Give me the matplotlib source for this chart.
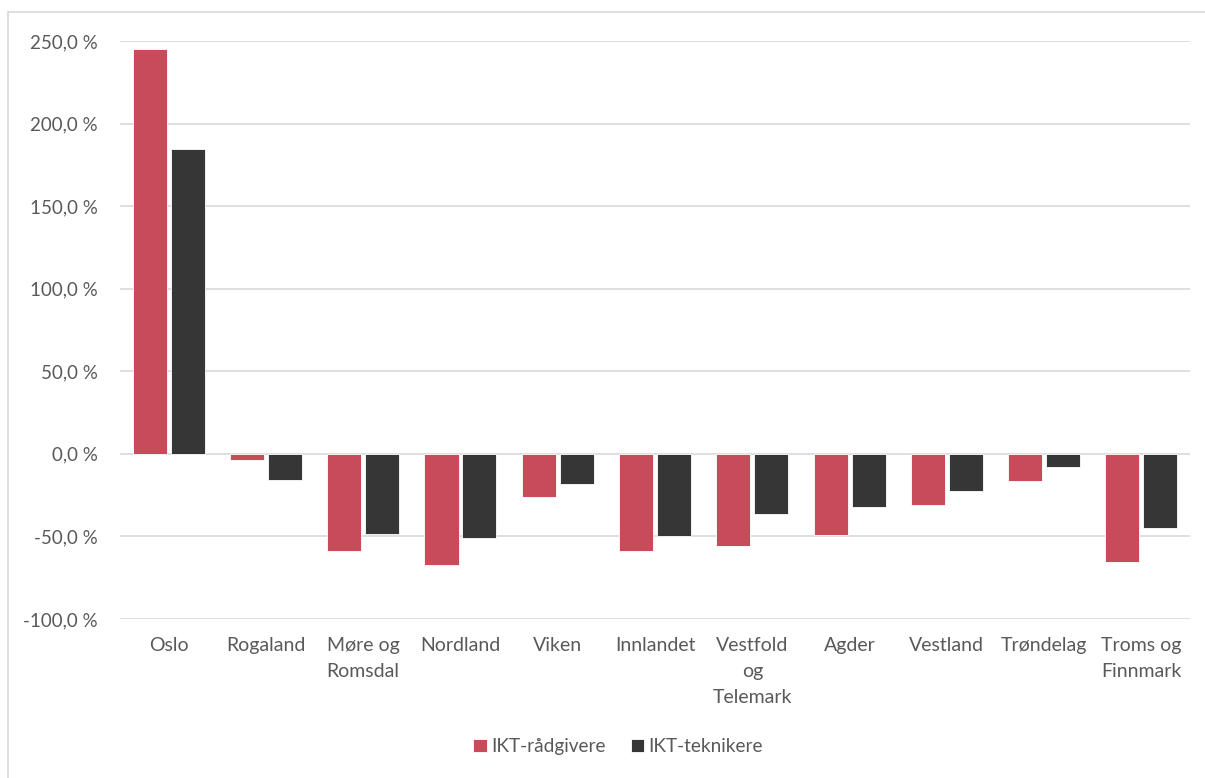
import numpy as np
import matplotlib.pyplot as plt
from matplotlib.patches import Rectangle

plt.rcParams['font.family'] = ['Lato', 'DejaVu Sans']

# Endring i andel per fylke
fylker = ['Oslo', 'Rogaland', 'Møre og\nRomsdal', 'Nordland', 'Viken', 'Innlandet',
          'Vestfold\nog\nTelemark', 'Agder', 'Vestland', 'Trøndelag', 'Troms og\nFinnmark']
radgivere = [245.2, -4.0, -58.7, -67.5, -26.2, -59.1, -56.1, -49.0, -31.1, -16.5, -65.5]
teknikere = [184.9, -16.1, -48.6, -51.2, -18.3, -49.6, -36.5, -32.3, -22.4, -7.9, -45.0]
yticks = [-100, -50, 0, 50, 100, 150, 200, 250]

red = '#C84B5A'
dark = '#363636'
txt = '#595959'

fig = plt.figure(figsize=(12.05, 7.78), dpi=100)
ax = fig.add_axes([0.0996, 0.2044, 0.888, 0.7429])

x = np.arange(len(fylker))
w = 0.35
ax.bar(x - w / 2 - 0.02, radgivere, w, color=red, edgecolor='white', linewidth=0.6,
       label='IKT-rådgivere', zorder=3)
ax.bar(x + w / 2 + 0.02, teknikere, w, color=dark, edgecolor='white', linewidth=0.6,
       label='IKT-teknikere', zorder=3)

ax.set_ylim(-100, 250)
ax.set_xlim(-0.5, len(fylker) - 0.5)
ax.set_yticks(yticks)
ax.set_yticklabels([f'{v:.1f}'.replace('.', ',') + ' %' for v in yticks])
ax.set_xticks(x)
ax.set_xticklabels(fylker, linespacing=1.65)
ax.yaxis.grid(True, color='#d9d9d9', linewidth=1.2, zorder=0)
ax.tick_params(axis='y', length=0, labelsize=13.5, colors=txt, pad=16)
ax.tick_params(axis='x', length=0, labelsize=14, colors=txt, pad=13)
for s in ax.spines.values():
    s.set_visible(False)

leg = fig.legend(loc='center', bbox_to_anchor=(0.513, 0.04), ncol=2, frameon=False,
                 fontsize=13.7, handlelength=0.7, handleheight=0.7, handletextpad=0.25,
                 columnspacing=1.3)
for t in leg.get_texts():
    t.set_color(txt)

# ramme rundt diagrammet
fig.patches.append(Rectangle((0.0066, -0.01), 1.0, 0.995, transform=fig.transFigure,
                             fill=False, edgecolor='#d9d9d9', linewidth=1.2))

fig.savefig('out.png', dpi=100)
